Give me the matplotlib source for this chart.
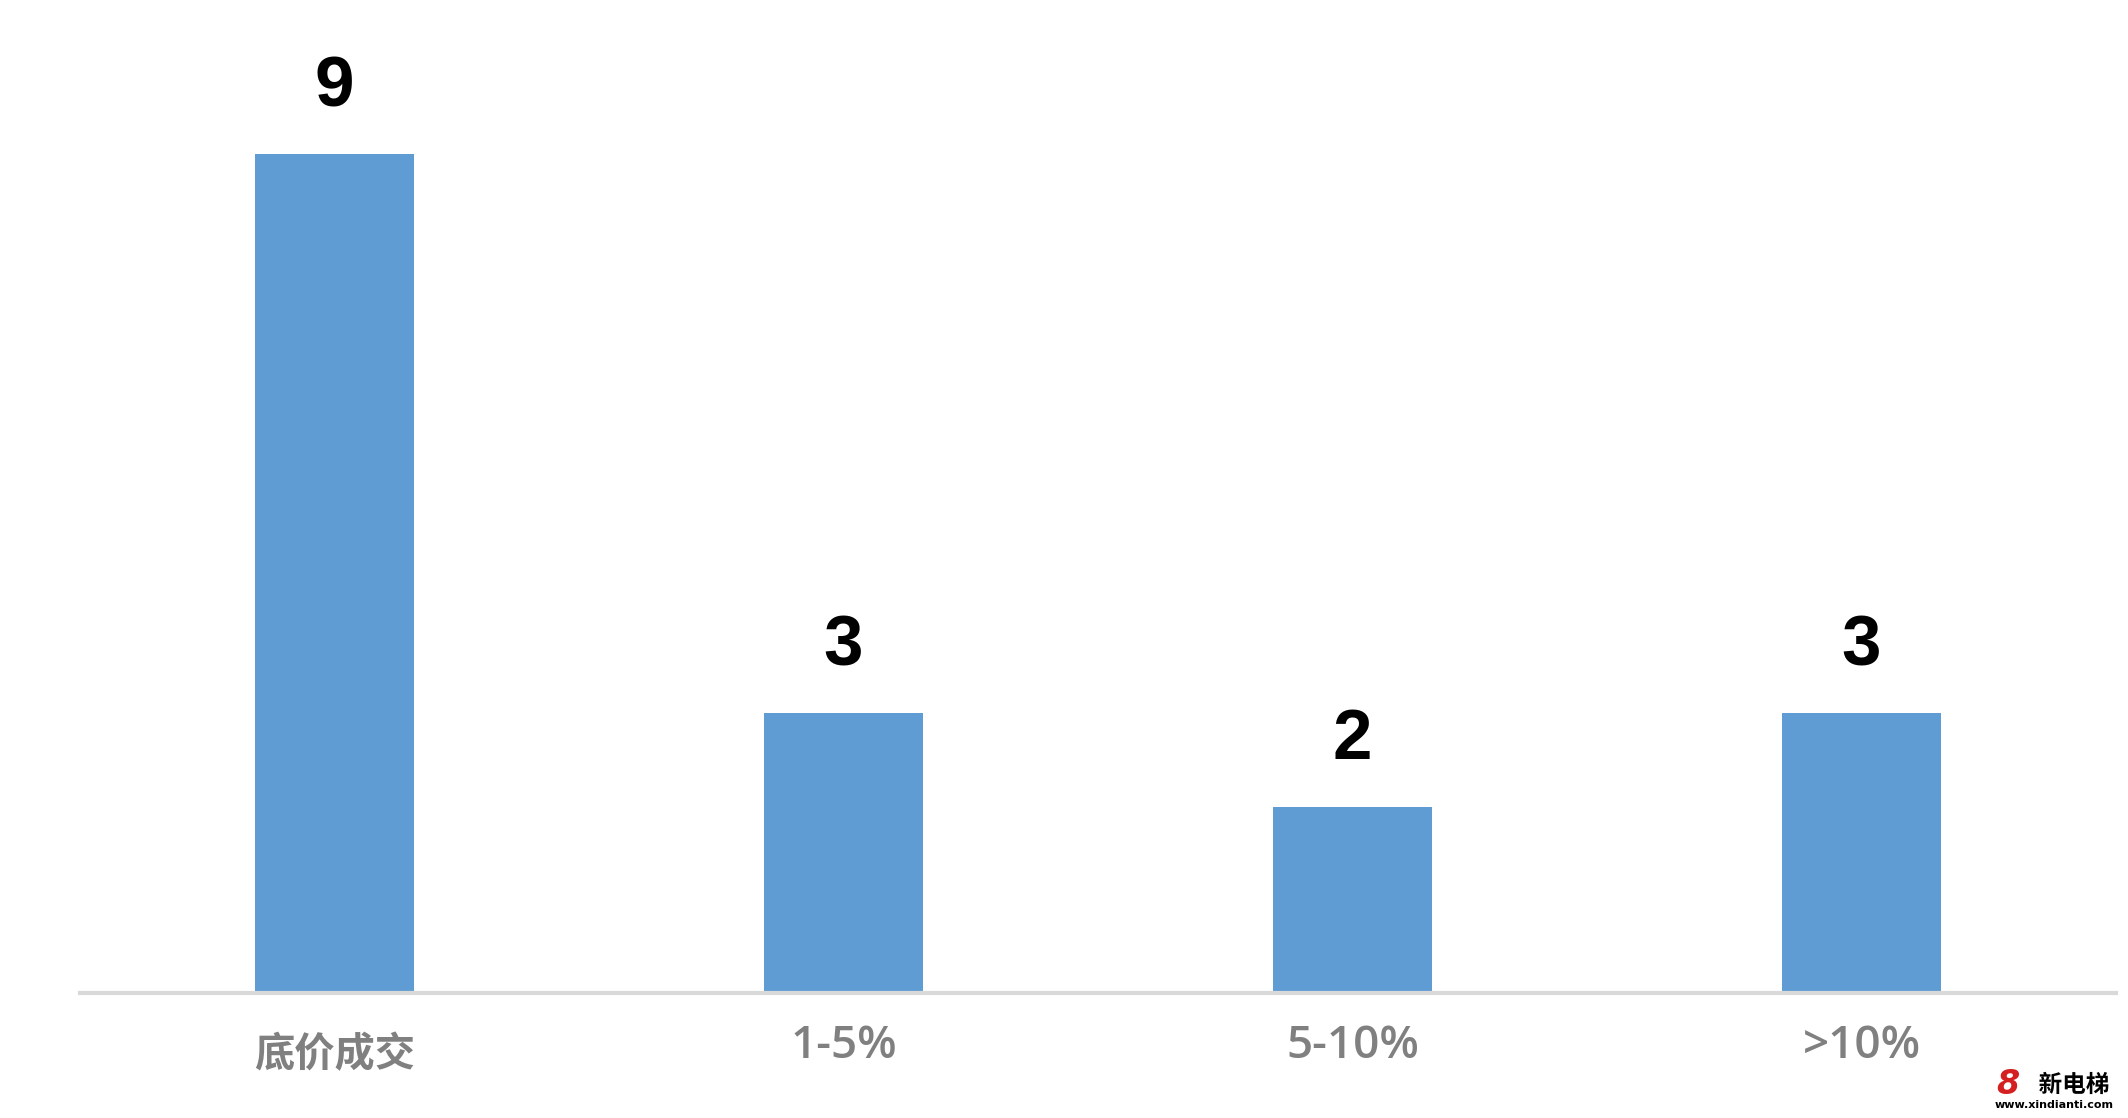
import matplotlib.pyplot as plt
import matplotlib.patheffects as pe

# data
categories = ['底价成交', '1-5%', '5-10%', '>10%']
counts = [9, 3, 2, 3]

# style params
_barcolor = '#5f9cd3'
_axiscolor = '#d9d9d9'
_tickcolor = '#808080'
_labelfont = ['Open Sans', 'Noto Sans CJK SC', 'DejaVu Sans']

fig = plt.figure(figsize=(21.28, 11.18), dpi=100)
ax = fig.add_axes([80 / 2128, 125 / 1118, 2036 / 2128, 932 / 1118])

x = range(len(categories))
bars = ax.bar(x, counts, width=0.314, color=_barcolor, zorder=2)

ax.set_xlim(-0.5, len(categories) - 0.5)
ax.set_ylim(0, 10)

# value labels above bars
for rect, val in zip(bars, counts):
    ax.annotate(str(val), (rect.get_x() + rect.get_width() / 2, rect.get_height()),
                xytext=(0, 34.5), textcoords='offset points',
                ha='center', va='baseline', fontsize=51, fontweight='bold',
                family=['Liberation Sans', 'DejaVu Sans'], color='black')

# axes styling
for s in ['top', 'right', 'left']:
    ax.spines[s].set_visible(False)
ax.spines['bottom'].set_color(_axiscolor)
ax.spines['bottom'].set_linewidth(3)
ax.set_yticks([])
ax.set_xticks(list(x))
ax.set_xticklabels(categories, fontsize=33, color=_tickcolor, family=_labelfont,
                   fontweight='semibold')
ax.tick_params(axis='x', length=0, pad=22)
# chinese label a bit smaller and lower
lab0 = ax.get_xticklabels()[0]
lab0.set_family(['Noto Sans CJK SC'])
lab0.set_fontsize(29)
lab0.set_fontweight('bold')
ax.xaxis.get_major_ticks()[0].set_pad(30)

# watermark
fig.text(2074 / 2128, 1 - 1085 / 1118, '新电梯', ha='center', va='center',
         fontsize=17, fontweight='bold', family=['Noto Sans CJK SC'], color='black',
         path_effects=[pe.withStroke(linewidth=3, foreground='white')])
fig.text(2054 / 2128, 1 - 1105 / 1118, 'www.xindianti.com', ha='center', va='center',
         fontsize=8, fontweight='bold', family=['DejaVu Sans'], color='black')
fig.text(2008 / 2128, 1 - 1084 / 1118, '8', ha='center', va='center',
         fontsize=24, fontstyle='italic', fontweight='bold', color='#d42020',
         family=['DejaVu Sans'])

fig.savefig('out.png', dpi=100)
